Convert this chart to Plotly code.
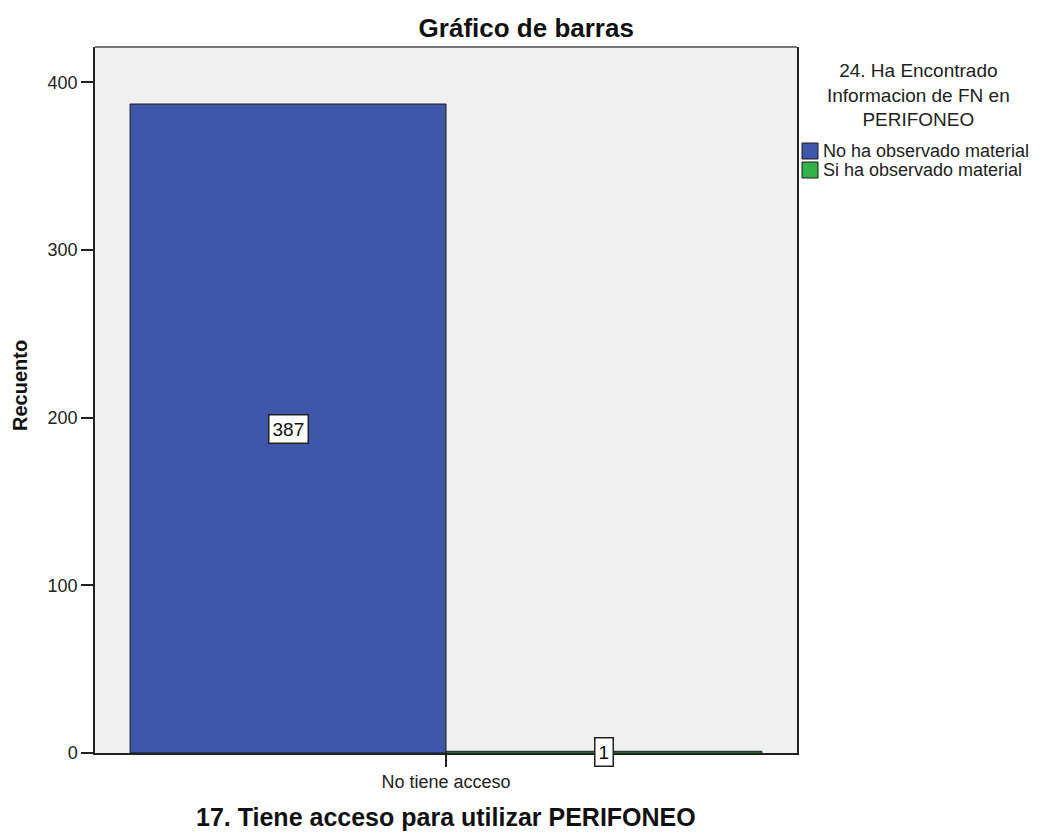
import plotly.graph_objects as go

# Counts per category, split by the legend variable
categories = ["No tiene acceso"]
series_names = ["No ha observado material", "Si ha observado material"]
series_values = [[387], [1]]
series_colors = ["#3e57aa", "#33b24a"]
y_ticks = [0, 100, 200, 300, 400]
legend_heading = "24. Ha Encontrado<br>Informacion de FN en<br>PERIFONEO"

W, H = 1040, 833
L, R, T, B = 95, 797, 47, 753      # plot-area edges in pixels
FONT = "Liberation Sans, Arial, sans-serif"


def px_x(px):
    return (px - L) / (R - L)


def px_y(py):
    return (B - py) / (B - T)


fig = go.Figure()
for name, vals, col in zip(series_names, series_values, series_colors):
    fig.add_trace(go.Bar(
        x=categories, y=vals, name=name,
        marker=dict(color=col, line=dict(color="#1a1a1a", width=1)),
    ))

# Boxed value labels in the middle of each bar
n = len(series_names)
for i, vals in enumerate(series_values):
    for j, v in enumerate(vals):
        fig.add_annotation(
            x=j, xshift=(i - (n - 1) / 2) * 316, y=v / 2,
            text=str(v), showarrow=False,
            font=dict(family=FONT, size=19, color="#111"),
            bgcolor="white", bordercolor="#222", borderwidth=1.5, borderpad=3,
        )

# Legend: heading plus coloured squares with labels
fig.add_annotation(
    xref="paper", yref="paper", x=px_x(918), y=px_y(58), xanchor="center", yanchor="top",
    text=legend_heading, showarrow=False, align="center",
    font=dict(family=FONT, size=19, color="#222"),
)
for k, (name, col) in enumerate(zip(series_names, series_colors)):
    top = 143 + k * 19
    fig.add_shape(
        type="rect", xref="paper", yref="paper",
        x0=px_x(802), x1=px_x(818), y0=px_y(top), y1=px_y(top + 16),
        fillcolor=col, line=dict(color="#1a1a1a", width=1),
    )
    fig.add_annotation(
        xref="paper", yref="paper", x=px_x(821), y=px_y(top + 8),
        xanchor="left", yanchor="middle", text=name, showarrow=False,
        font=dict(family=FONT, size=18, color="#222"),
    )

# Axis titles
fig.add_annotation(
    xref="paper", yref="paper", x=px_x(20), y=px_y(386), xanchor="center", yanchor="middle",
    text="<b>Recuento</b>", textangle=-90, showarrow=False,
    font=dict(family=FONT, size=20, color="#111"),
)
fig.add_annotation(
    xref="paper", yref="paper", x=px_x(446), y=px_y(817), xanchor="center", yanchor="middle",
    text="<b>17. Tiene acceso para utilizar PERIFONEO</b>", showarrow=False,
    font=dict(family=FONT, size=25, color="#111"),
)

# Grey top edge of the frame
fig.add_shape(type="line", xref="paper", yref="paper", x0=0, x1=1, y0=1, y1=1,
              line=dict(color="#777", width=2))

fig.update_layout(
    width=W, height=H,
    margin=dict(l=L, r=W - R, t=T, b=H - B),
    paper_bgcolor="white", plot_bgcolor="#f0f0f0",
    barmode="group", bargap=0.1, bargroupgap=0,
    title=dict(text="<b>Gráfico de barras</b>", xref="container", x=0.506, xanchor="center",
               yref="container", y=1 - 28 / H, yanchor="middle",
               font=dict(family=FONT, size=26, color="#111")),
    font=dict(family=FONT, size=18, color="#222"),
    showlegend=False,
    xaxis=dict(
        automargin=False, showgrid=False, zeroline=False,
        showline=True, linecolor="#222", linewidth=1.5, mirror=False,
        ticks="outside", ticklen=12, tickcolor="#222", tickwidth=1.5,
        tickfont=dict(size=18),
    ),
    yaxis=dict(
        automargin=False,
        range=[0, 421], tickvals=y_ticks, showgrid=False, zeroline=False,
        showline=True, linecolor="#222", linewidth=1.5, mirror=True,
        ticks="outside", ticklen=12, tickcolor="#222", tickwidth=1.5,
        tickfont=dict(size=18),
    ),
)

fig.write_html("out.html")
